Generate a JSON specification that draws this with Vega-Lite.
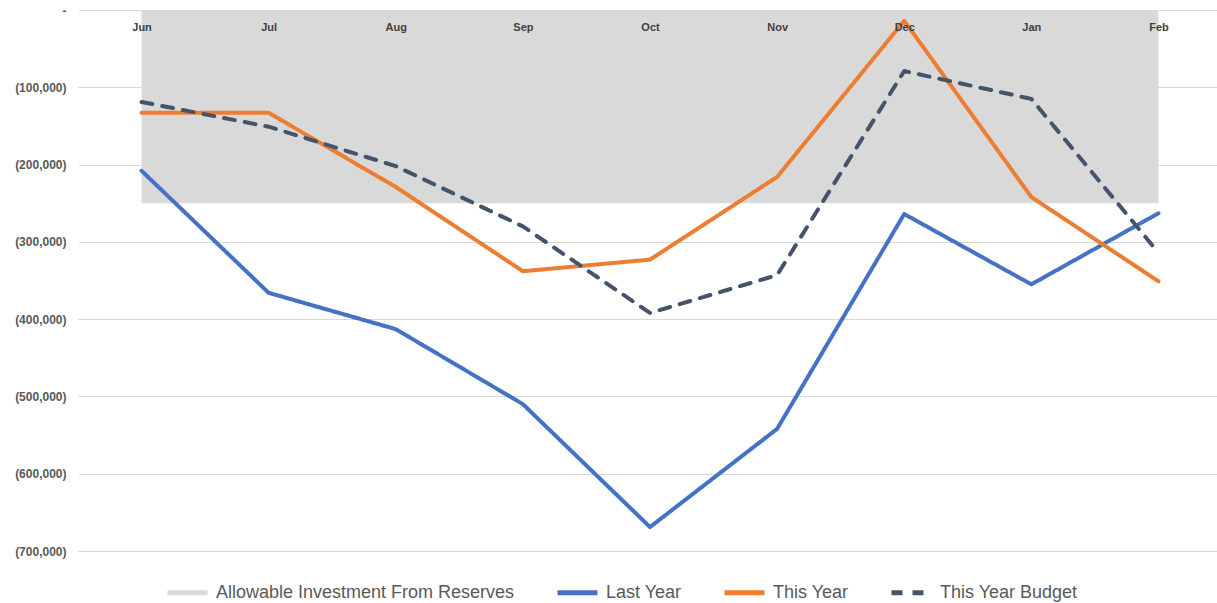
{
  "$schema": "https://vega.github.io/schema/vega-lite/v6.json",
  "width": 1144,
  "height": 541,
  "autosize": {"type": "none"},
  "padding": {"left": 78, "top": 10, "right": 0, "bottom": 52},
  "background": "white",
  "config": {
    "view": {"stroke": null},
    "font": "Liberation Sans",
    "axis": {"labelFont": "Liberation Sans", "labelColor": "#595959", "labelFontWeight": "bold"}
  },
  "datasets": {
    "lines": [
      {"month": "Jun", "series": "Last Year", "value": -208000},
      {"month": "Jul", "series": "Last Year", "value": -366000},
      {"month": "Aug", "series": "Last Year", "value": -413000},
      {"month": "Sep", "series": "Last Year", "value": -510000},
      {"month": "Oct", "series": "Last Year", "value": -669000},
      {"month": "Nov", "series": "Last Year", "value": -542000},
      {"month": "Dec", "series": "Last Year", "value": -264000},
      {"month": "Jan", "series": "Last Year", "value": -355000},
      {"month": "Feb", "series": "Last Year", "value": -263000},
      {"month": "Jun", "series": "This Year", "value": -133000},
      {"month": "Jul", "series": "This Year", "value": -133000},
      {"month": "Aug", "series": "This Year", "value": -229000},
      {"month": "Sep", "series": "This Year", "value": -338000},
      {"month": "Oct", "series": "This Year", "value": -323000},
      {"month": "Nov", "series": "This Year", "value": -216000},
      {"month": "Dec", "series": "This Year", "value": -14000},
      {"month": "Jan", "series": "This Year", "value": -242000},
      {"month": "Feb", "series": "This Year", "value": -351000},
      {"month": "Jun", "series": "This Year Budget", "value": -119000},
      {"month": "Jul", "series": "This Year Budget", "value": -151000},
      {"month": "Aug", "series": "This Year Budget", "value": -202000},
      {"month": "Sep", "series": "This Year Budget", "value": -280000},
      {"month": "Oct", "series": "This Year Budget", "value": -392000},
      {"month": "Nov", "series": "This Year Budget", "value": -343000},
      {"month": "Dec", "series": "This Year Budget", "value": -79000},
      {"month": "Jan", "series": "This Year Budget", "value": -115000},
      {"month": "Feb", "series": "This Year Budget", "value": -314000}
    ],
    "band": [
      {"month": "Jun", "series": "Allowable Investment From Reserves", "top": 0, "bottom": -250000},
      {"month": "Jul", "series": "Allowable Investment From Reserves", "top": 0, "bottom": -250000},
      {"month": "Aug", "series": "Allowable Investment From Reserves", "top": 0, "bottom": -250000},
      {"month": "Sep", "series": "Allowable Investment From Reserves", "top": 0, "bottom": -250000},
      {"month": "Oct", "series": "Allowable Investment From Reserves", "top": 0, "bottom": -250000},
      {"month": "Nov", "series": "Allowable Investment From Reserves", "top": 0, "bottom": -250000},
      {"month": "Dec", "series": "Allowable Investment From Reserves", "top": 0, "bottom": -250000},
      {"month": "Jan", "series": "Allowable Investment From Reserves", "top": 0, "bottom": -250000},
      {"month": "Feb", "series": "Allowable Investment From Reserves", "top": 0, "bottom": -250000}
    ]
  },
  "encoding": {
    "x": {
      "field": "month", "type": "nominal",
      "scale": {"type": "point", "domain": ["Jun","Jul","Aug","Sep","Oct","Nov","Dec","Jan","Feb"], "padding": 0.5},
      "axis": {"orient": "bottom", "offset": -541, "title": null, "domain": false, "ticks": false, "grid": false, "labelAngle": 0, "labelPadding": 11, "labelFontSize": 11, "labelColor": "#404040", "zindex": 1}
    }
  },
  "layer": [
    {
      "data": {"name": "band"},
      "mark": {"type": "area", "opacity": 1},
      "encoding": {
        "y": {"field": "top", "type": "quantitative"},
        "y2": {"field": "bottom"},
        "color": {"field": "series", "type": "nominal"},
        "strokeDash": {"field": "series", "type": "nominal"}
      }
    },
    {
      "data": {"name": "lines"},
      "mark": {"type": "line", "strokeWidth": 4, "strokeCap": "round", "strokeJoin": "round"},
      "encoding": {
        "y": {
          "field": "value", "type": "quantitative",
          "scale": {"domain": [-700000, 0], "nice": false, "zero": false},
          "axis": {"title": null, "values": [0,-100000,-200000,-300000,-400000,-500000,-600000,-700000], "domain": false, "ticks": false, "labelPadding": 12, "labelFontSize": 12, "gridColor": "#d9d9d9", "gridWidth": 1, "labelExpr": "datum.value == 0 ? '-' : '(' + format(-datum.value, ',') + ')'"}
        },
        "color": {
          "field": "series", "type": "nominal",
          "scale": {"domain": ["Allowable Investment From Reserves", "Last Year", "This Year", "This Year Budget"], "range": ["#d9d9d9", "#4472c4", "#ed7d31", "#44546a"]},
          "legend": {"orient": "none", "legendX": 87, "legendY": 560, "direction": "horizontal", "columns": 4, "title": null, "symbolType": "stroke", "symbolSize": 1600, "symbolStrokeWidth": 5, "labelFont": "Liberation Sans", "labelFontSize": 18, "labelColor": "#595959", "labelLimit": 500, "columnPadding": 32, "symbolOffset": 0, "labelOffset": 6}
        },
        "strokeDash": {
          "field": "series", "type": "nominal",
          "scale": {"domain": ["Allowable Investment From Reserves", "Last Year", "This Year", "This Year Budget"], "range": [[1,0],[1,0],[1,0],[11,10]]},
          "legend": null
        },
        "order": {"field": "series"}
      }
    }
  ]
}
